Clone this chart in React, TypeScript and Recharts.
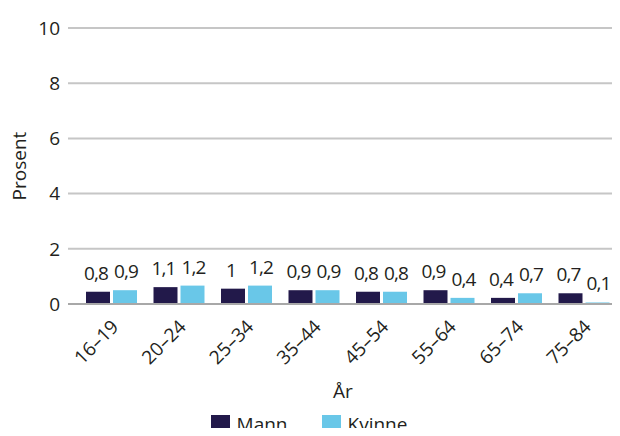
import { BarChart, Bar, XAxis, YAxis, CartesianGrid, LabelList, Legend } from 'recharts';

const ageGroups = ['16–19', '20–24', '25–34', '35–44', '45–54', '55–64', '65–74', '75–84'];
const mann = [0.8, 1.1, 1, 0.9, 0.8, 0.9, 0.4, 0.7];
const kvinne = [0.9, 1.2, 1.2, 0.9, 0.8, 0.4, 0.7, 0.1];
const yTicks = [0, 2, 4, 6, 8, 10];

const data = ageGroups.map((age, i) => ({ age, mann: mann[i], kvinne: kvinne[i] }));

const MANN = '#22194a';
const KVINNE = '#69c7e8';
const TEXT = '#231f20';
const FONT = '"Open Sans", sans-serif';

const fmt = (v: number) => String(v).replace('.', ',');

const AgeTick = ({ x, y, payload }: any) => (
  <text
    x={x + 8}
    y={y + 16}
    transform={`rotate(-45, ${x + 8}, ${y + 16})`}
    textAnchor="end"
    fill={TEXT}
    fontSize={19}
    fontFamily={FONT}
  >
    {payload.value}
  </text>
);

// rotated y-axis title, centred on the plot height
const YTitle = ({ viewBox }: any) => {
  const cx = 19;
  const cy = viewBox.y + viewBox.height / 2;
  return (
    <text
      x={cx}
      y={cy}
      transform={`rotate(-90, ${cx}, ${cy})`}
      textAnchor="middle"
      dominantBaseline="central"
      fill={TEXT}
      fontSize={19}
      fontFamily={FONT}
    >
      Prosent
    </text>
  );
};

const LegendBox = () => (
  <div style={{ display: 'flex', justifyContent: 'center', gap: 34, fontFamily: FONT, fontSize: 19, lineHeight: '19px', color: TEXT, height: 37, alignItems: 'flex-start', paddingTop: 16, boxSizing: 'border-box' }}>
    {[['Mann', MANN], ['Kvinne', KVINNE]].map(([name, c]) => (
      <div key={name} style={{ display: 'flex', alignItems: 'center', gap: 7 }}>
        <span style={{ width: 19, height: 19, background: c, display: 'inline-block' }} />
        <span>{name}</span>
      </div>
    ))}
  </div>
);

const labelStyle = { fill: TEXT, fontSize: 19, fontFamily: FONT, letterSpacing: -0.8 };

export default function App() {
  return (
    <div style={{ margin: -8, background: '#fff', width: 620, height: 436, overflow: 'hidden' }}>
      <BarChart
        width={620}
        height={436}
        data={data}
        margin={{ top: 28, right: 2, left: 0, bottom: 0 }}
        barSize={24}
        barGap={3}
      >
        <CartesianGrid yAxisId="pct" vertical={false} stroke="#c6c6c6" strokeWidth={2} />
        <XAxis
          dataKey="age"
          interval={0}
          height={95}
          padding={{ left: 10, right: 0 }}
          tickLine={false}
          axisLine={{ stroke: '#a8a8a8', strokeWidth: 2 }}
          tick={<AgeTick />}
          label={{ value: 'År', position: 'insideBottom', offset: 1, fill: TEXT, fontSize: 19, fontFamily: FONT }}
        />
        <YAxis
          yAxisId="pct"
          type="number"
          width={68}
          domain={[0, 10]}
          allowDataOverflow
          ticks={yTicks}
          tickLine={false}
          axisLine={false}
          tick={{ fill: TEXT, fontSize: 19, fontFamily: FONT }}
          label={<YTitle />}
        />
        <YAxis yAxisId="v" type="number" domain={[0, 18]} allowDataOverflow hide />
        <Legend verticalAlign="bottom" content={<LegendBox />} />
        <Bar yAxisId="v" dataKey="mann" name="Mann" fill={MANN} isAnimationActive={false}>
          <LabelList dataKey="mann" position="top" offset={12} dx={-2} formatter={fmt} {...labelStyle} />
        </Bar>
        <Bar yAxisId="v" dataKey="kvinne" name="Kvinne" fill={KVINNE} isAnimationActive={false}>
          <LabelList dataKey="kvinne" position="top" offset={12} dx={1} formatter={fmt} {...labelStyle} />
        </Bar>
      </BarChart>
    </div>
  );
}
